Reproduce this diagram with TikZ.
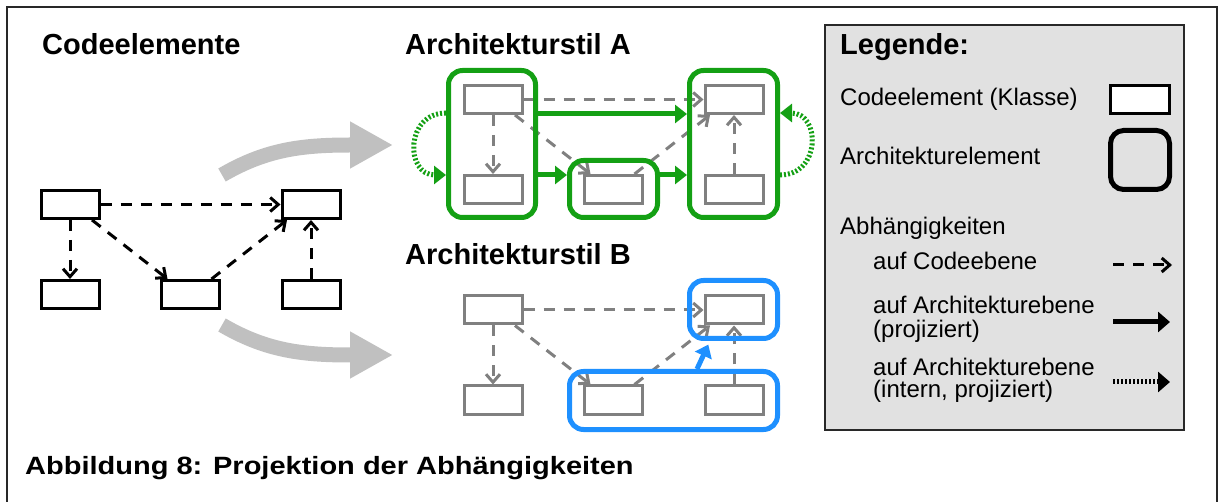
\documentclass[tikz,border=0pt]{standalone}
\usepackage{fontspec}
\setmainfont{Liberation Sans}
\newfontfamily\capfont[FakeStretch=1.16]{Liberation Sans}
\usetikzlibrary{arrows.meta}
\definecolor{archgreen}{RGB}{20,160,20}
\definecolor{archblue}{RGB}{30,144,255}
\definecolor{codegrey}{RGB}{128,128,128}
\definecolor{biggrey}{RGB}{192,192,192}
\definecolor{legfill}{RGB}{225,225,225}
\definecolor{framecol}{RGB}{40,40,40}

\newcommand\codegraph[4]{%
  \begin{scope}[shift={(#3,#4)}]
    \node[codebox=#2] (#1a) at (70,204.5) {};
    \node[codebox=#2] (#1b) at (311,204.5) {};
    \node[codebox=#2] (#1c) at (70,294.5) {};
    \node[codebox=#2] (#1d) at (190.5,294.5) {};
    \node[codebox=#2] (#1e) at (311,294.5) {};
    \draw[dep=#2] (#1a.east) -- (#1b.west);
    \draw[dep=#2] (#1a.south) -- (#1c.north);
    \draw[dep=#2] ([xshift=22pt]#1a.south) -- ([xshift=-23pt]#1d.north);
    \draw[dep=#2] ([xshift=21pt]#1d.north) -- ([xshift=-24pt]#1b.south);
    \draw[dep=#2] (#1e.north) -- (#1b.south);
  \end{scope}}

\begin{document}
\begin{tikzpicture}[x=1pt,y=-1pt,
  codebox/.style={draw=#1, line width=3pt, fill=white, minimum width=58pt, minimum height=28pt, inner sep=0pt},
  dep/.style={draw=#1, line width=3pt, dash pattern=on 11pt off 9pt, -{Straight Barb[length=8pt,width=14pt]}},
  archbox/.style={draw=#1, line width=5pt, rounded corners=14pt, inner sep=0pt},
  proj/.style={draw=#1, line width=5pt, -{Triangle[length=12pt,width=18pt]}},
  intern/.style={draw=#1, line width=5pt, dash pattern=on 2pt off 2pt, -{Triangle[length=12pt,width=18pt]}},
  bigarrow/.style={draw=biggrey, line width=15pt, -{Triangle[length=43pt,width=44pt]}},
  heading/.style={anchor=base west, inner sep=0pt, font=\fontsize{29pt}{34pt}\selectfont\bfseries},
  legtext/.style={anchor=base west, inner sep=0pt, font=\fontsize{24pt}{28pt}\selectfont},
]
\useasboundingbox (0,0) rectangle (1218,502);
% outer frame
\draw[framecol, line width=2pt] (7,520) -- (7,7) -- (1217,7) -- (1217,520);

% headings
\node[heading] (hcode) at (42,55) {Codeelemente};
\node[heading] (hA) at (405,55) {Architekturstil A};
\node[heading] (hB) at (405,265) {Architekturstil B};

% code graphs
\codegraph{k}{black}{0}{0}
\codegraph{a}{codegrey}{423}{-105}
\codegraph{b}{codegrey}{423}{105.5}

% big grey arrows
\coordinate (u0) at (222,175);
\coordinate (u1) at (393,145);
\coordinate (d0) at (222,325);
\coordinate (d1) at (393,355);
\draw[bigarrow] (u0) .. controls (265,150) and (300,145) .. (350,145) -- (u1);
\draw[bigarrow] (d0) .. controls (265,350) and (300,355) .. (350,355) -- (d1);

% style A containers
\node[archbox=archgreen, minimum width=87pt, minimum height=147pt] (g1) at (492,144) {};
\node[archbox=archgreen, minimum width=88pt, minimum height=57pt] (g2) at (613.5,189) {};
\node[archbox=archgreen, minimum width=88pt, minimum height=147pt] (g3) at (733.5,144) {};
\draw[proj=archgreen] ([yshift=30pt]g1.east) -- ([yshift=30pt]g3.west);
\draw[proj=archgreen] ([yshift=-31pt]g1.east) -- ([yshift=14pt]g2.west);
\draw[proj=archgreen] ([yshift=14pt]g2.east) -- ([yshift=-31pt]g3.west);
\draw[intern=archgreen] ([yshift=31pt]g1.west) .. controls +(-41,0) and +(-41,0) .. ([yshift=-31pt]g1.west);
\draw[intern=archgreen] ([yshift=-31pt]g3.east) .. controls +(41,0) and +(41,0) .. ([yshift=31pt]g3.east);

% style B containers
\node[archbox=archblue, minimum width=88pt, minimum height=58pt] (bb1) at (733.5,309.5) {};
\node[archbox=archblue, minimum width=208pt, minimum height=58pt] (bb2) at (673.5,400.5) {};
\draw[proj=archblue, shorten >=4pt] ([xshift=23.5pt]bb2.north) -- ([xshift=-23.5pt]bb1.south);

% legend
\node[draw=framecol, line width=2pt, fill=legfill, minimum width=359pt, minimum height=405pt, inner sep=0pt] (leg) at (1004.5,227.5) {};
\node[heading] (lt0) at (840,55) {Legende:};
\node[legtext] (lt1) at (840,106) {Codeelement (Klasse)};
\node[legtext] (lt2) at (840,165) {Architekturelement};
\node[legtext] (lt3) at (840,235) {Abhängigkeiten};
\node[legtext] (lt4) at (873,270) {auf Codeebene};
\node[legtext] (lt5) at (873,314) {auf Architekturebene};
\node[legtext] (lt6) at (873,338) {(projiziert)};
\node[legtext] (lt7) at (873,376) {auf Architekturebene};
\node[legtext] (lt8) at (873,398) {(intern, projiziert)};
\node[codebox=black, minimum width=59pt] (ls1) at (1140,99.5) {};
\node[archbox=black, minimum width=59pt, minimum height=59pt, rounded corners=13pt] (ls2) at (1140,160) {};
\coordinate (la0) at (1113,265);
\coordinate (la1) at (1172,265);
\coordinate (lb0) at (1113,322);
\coordinate (lb1) at (1170,322);
\coordinate (lc0) at (1113,382);
\coordinate (lc1) at (1170,382);
\draw[dep=black] (la0) -- (la1);
\draw[proj=black, -{Triangle[length=12pt,width=20pt]}] (lb0) -- (lb1);
\draw[intern=black, -{Triangle[length=12pt,width=20pt]}] (lc0) -- (lc1);

% caption
\node[anchor=base west, inner sep=0pt, font=\fontsize{25pt}{30pt}\capfont\bfseries] (cap) at (25,474) {Abbildung 8: Projektion der Abhängigkeiten};
\end{tikzpicture}
\end{document}
